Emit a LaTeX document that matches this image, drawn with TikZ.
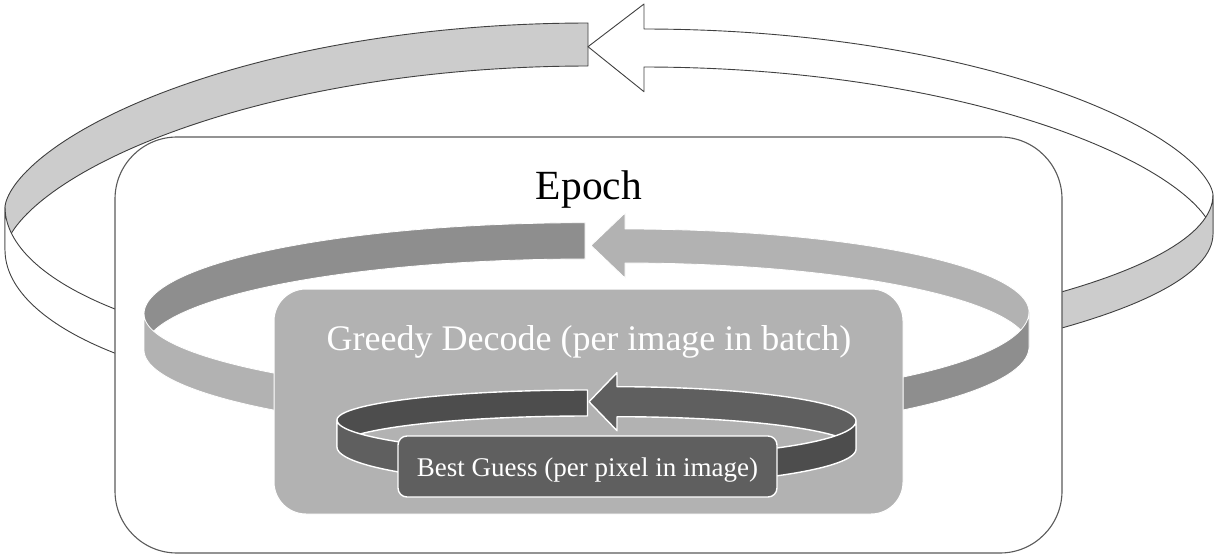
\documentclass[tikz,border=0pt]{standalone}
\usepackage{fontspec}
\setmainfont{Liberation Serif}

\definecolor{outershade}{HTML}{CCCCCC}
\definecolor{outerline}{HTML}{404040}
\definecolor{boxline}{HTML}{5A5A5A}
\definecolor{middark}{HTML}{8E8E8E}
\definecolor{midlight}{HTML}{B2B2B2}
\definecolor{innerdark}{HTML}{4D4D4D}
\definecolor{innerlight}{HTML}{5F5F5F}

\begin{document}
% y axis points down: on an arc, 270 is the top of the ellipse, 90 its bottom.
% The back of the outer loop uses a slightly squarer profile, s*|s|^(1/4).
\begin{tikzpicture}[x=1pt,y=-1pt,
  arcsamp/.style={samples=70,variable=\t},
  outerband/.style={draw=outerline,line width=0.9pt,line join=round},
  midband/.style={draw=white,line width=0.8pt,line join=round},
  innerband/.style={draw=white,line width=1.4pt,line join=round},
  loopbox/.style={rectangle,inner sep=0pt,outer sep=0pt},
  looplabel/.style={anchor=base,inner sep=0pt}]
\useasboundingbox (0,0) rectangle (1214,556);

% ---- outer loop: epochs ----
% back, left half (tail)
\path[outerband,fill=outershade]
  plot[arcsamp,domain=270:180] ({588+583*cos(\t)},{207+184*sin(\t)*sqrt(sqrt(abs(sin(\t))))})
  -- plot[arcsamp,domain=180:270] ({588+583*cos(\t)},{250+184*sin(\t)*sqrt(sqrt(abs(sin(\t))))})
  -- cycle;
% back, right half with the arrow head
\path[outerband,fill=white]
  (588,46.7) -- (644,4)
  -- plot[arcsamp,domain=270:360] ({644+569*cos(\t)},{195+166*sin(\t)*sqrt(sqrt(abs(sin(\t))))})
  -- plot[arcsamp,domain=360:270] ({644+569*cos(\t)},{234+167*sin(\t)*sqrt(sqrt(abs(sin(\t))))})
  -- (644,91.7) -- cycle;
% front, left half
\path[outerband,fill=white]
  plot[arcsamp,domain=180:90] ({430+425*cos(\t)},{207+152*sin(\t)})
  -- plot[arcsamp,domain=90:180] ({387+382*cos(\t)},{250+147*sin(\t)}) -- cycle;
% front, right half
\path[outerband,fill=outershade]
  plot[arcsamp,domain=90:0] ({430+783*cos(\t)},{195+164*sin(\t)})
  -- plot[arcsamp,domain=0:90] ({387+826*cos(\t)},{234+163*sin(\t)}) -- cycle;

\node[loopbox,draw=boxline,line width=1.1pt,fill=white,rounded corners=62pt,
      minimum width=947pt,minimum height=416pt] (epoch) at (588.5,345) {};
\node[looplabel,font=\fontsize{41.5}{48}\selectfont] (epochlabel) at (589,200) {Epoch};

% ---- middle loop: greedy decode ----
\path[midband,fill=middark]
  plot[arcsamp,domain=270:180] ({585+441*cos(\t)},{314+91.3*sin(\t)})
  -- plot[arcsamp,domain=180:270] ({585+441*cos(\t)},{350+91*sin(\t)}) -- cycle;
\path[midband,fill=midlight]
  (591,245.5) -- (625,213)
  -- plot[arcsamp,domain=270:360] ({625+404*cos(\t)},{312+83*sin(\t)})
  -- plot[arcsamp,domain=360:270] ({625+404*cos(\t)},{347+84*sin(\t)})
  -- (625,278) -- cycle;
\path[midband,fill=midlight]
  plot[arcsamp,domain=180:90] ({632+488*cos(\t)},{314+87*sin(\t)})
  -- plot[arcsamp,domain=90:180] ({600+456*cos(\t)},{350+86*sin(\t)}) -- cycle;
\path[midband,fill=middark]
  plot[arcsamp,domain=90:0] ({632+397*cos(\t)},{312+89*sin(\t)})
  -- plot[arcsamp,domain=0:90] ({600+429*cos(\t)},{347+89*sin(\t)}) -- cycle;

\node[loopbox,fill=midlight,draw=white,line width=1pt,rounded corners=32pt,
      minimum width=629pt,minimum height=225pt] (greedy) at (588.5,401.5) {};
\node[looplabel,text=white,font=\fontsize{36}{42}\selectfont] (greedylabel)
  at (589,350) {Greedy Decode (per image in batch)};

% ---- inner loop: best guess ----
\path[innerband,fill=innerdark]
  plot[arcsamp,domain=270:180] ({587.5+250.5*cos(\t)},{420+30*sin(\t)})
  -- plot[arcsamp,domain=180:270] ({587.5+250.5*cos(\t)},{447+31*sin(\t)}) -- cycle;
\path[innerband,fill=innerlight]
  (589,401.7) -- (617,372.7)
  -- plot[arcsamp,domain=270:360] ({617+239*cos(\t)},{421+34.3*sin(\t)})
  -- plot[arcsamp,domain=360:270] ({617+239*cos(\t)},{449+32.3*sin(\t)})
  -- (617,430.7) -- cycle;
\path[innerband,fill=innerlight]
  plot[arcsamp,domain=180:90] ({638+301*cos(\t)},{420+36*sin(\t)})
  -- plot[arcsamp,domain=90:180] ({602+265*cos(\t)},{447+39*sin(\t)}) -- cycle;
\path[innerband,fill=innerdark]
  plot[arcsamp,domain=90:0] ({638+218*cos(\t)},{421+35*sin(\t)})
  -- plot[arcsamp,domain=0:90] ({602+254*cos(\t)},{449+37*sin(\t)}) -- cycle;

\node[loopbox,fill=innerlight,draw=white,line width=1.4pt,rounded corners=9pt,
      minimum width=379pt,minimum height=61pt] (guess) at (587.5,466.5) {};
\node[looplabel,text=white,font=\fontsize{27}{32}\selectfont] (guesslabel)
  at (587.5,476) {Best Guess (per pixel in image)};
\end{tikzpicture}
\end{document}
